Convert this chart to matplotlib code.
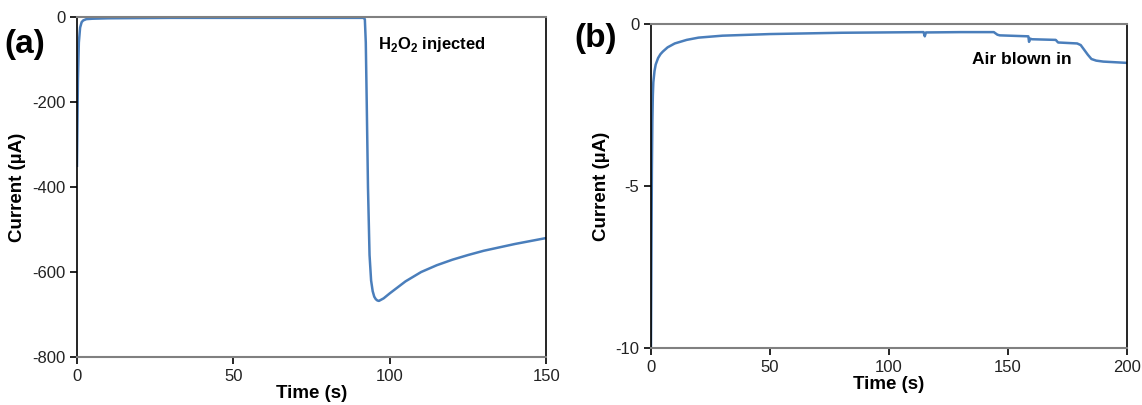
import matplotlib
matplotlib.use("Agg")
import matplotlib.pyplot as plt

plt.rcParams["font.family"] = ["Liberation Sans", "DejaVu Sans"]
plt.rcParams["mathtext.fontset"] = "custom"
plt.rcParams["mathtext.rm"] = "Liberation Sans"
plt.rcParams["mathtext.bf"] = "Liberation Sans:bold"
plt.rcParams["axes.unicode_minus"] = False

# Panel (a): H2O2 injection
time_a = [0, 0.3, 0.6, 1, 1.5, 2, 3, 5, 10, 30, 60, 90, 91.5, 92, 92.3, 92.6,
          93, 93.5, 94, 94.5, 95, 95.5, 96, 96.5, 97, 98, 100, 105, 110, 115,
          120, 125, 130, 135, 140, 145, 150]
current_a = [-350, -150, -60, -25, -12, -8, -5, -4, -3, -2, -2, -2, -2, -5, -60,
             -200, -400, -560, -620, -645, -658, -664, -667, -668, -666, -662,
             -650, -622, -600, -584, -571, -560, -550, -542, -534, -527, -520]

# Panel (b): air blown in
time_b = [0, 0.2, 0.4, 0.6, 0.8, 1.0, 1.5, 2, 3, 4, 5, 7, 10, 15, 20, 30, 50,
          80, 114.5, 115, 115.5, 130, 144, 145.5, 146.5, 158.5, 158.8, 159.2,
          160, 170, 171, 179, 180.5, 182, 183.5, 185, 187, 190, 195, 200]
current_b = [-10, -7, -4.5, -3, -2.2, -1.8, -1.45, -1.25, -1.05, -0.93, -0.85,
             -0.72, -0.6, -0.49, -0.42, -0.36, -0.31, -0.27, -0.25, -0.38,
             -0.26, -0.25, -0.25, -0.33, -0.35, -0.38, -0.55, -0.45, -0.47,
             -0.49, -0.57, -0.6, -0.65, -0.8, -0.95, -1.08, -1.13, -1.16,
             -1.18, -1.2]

line_color = "#4A7EBB"

fig = plt.figure(figsize=(11.42, 4.05), dpi=100)
ax1 = fig.add_axes([0.0674, 0.1185, 0.411, 0.8395])
ax2 = fig.add_axes([0.570, 0.1407, 0.417, 0.800])


def style_axes(ax):
    for side in ["top", "bottom"]:
        ax.spines[side].set_color("#808080")
        ax.spines[side].set_linewidth(1.5)
    for side in ["left", "right"]:
        ax.spines[side].set_color("black")
        ax.spines[side].set_linewidth(1.2)
    ax.tick_params(direction="out", length=5, width=1.2, labelsize=12,
                   labelcolor="#222222", top=False, right=False)
    ax.set_xlabel("Time (s)", fontsize=13.5, fontweight="bold", labelpad=1)
    ax.set_ylabel("Current (µA)", fontsize=13.5, fontweight="bold")


ax1.plot(time_a, current_a, color=line_color, lw=1.8)
ax1.set_xlim(0, 150)
ax1.set_ylim(-800, 0)
ax1.set_xticks([0, 50, 100, 150])
ax1.set_yticks([0, -200, -400, -600, -800])
style_axes(ax1)
ax1.text(96.2, -64, r"H$_\mathbf{2}$O$_\mathbf{2}$ injected", fontsize=12,
         fontweight="bold", ha="left", va="center")

ax2.plot(time_b, current_b, color=line_color, lw=1.8)
ax2.set_xlim(0, 200)
ax2.set_ylim(-10, 0)
ax2.set_xticks([0, 50, 100, 150, 200])
ax2.set_yticks([0, -5, -10])
style_axes(ax2)
ax2.text(135, -1.08, "Air blown in", fontsize=12.5, fontweight="bold",
         ha="left", va="center")

fig.text(0.004, 0.89, "(a)", fontsize=24, fontweight="bold", ha="left", va="center")
fig.text(0.503, 0.905, "(b)", fontsize=24, fontweight="bold", ha="left", va="center")

fig.savefig("out.png", dpi=100)
